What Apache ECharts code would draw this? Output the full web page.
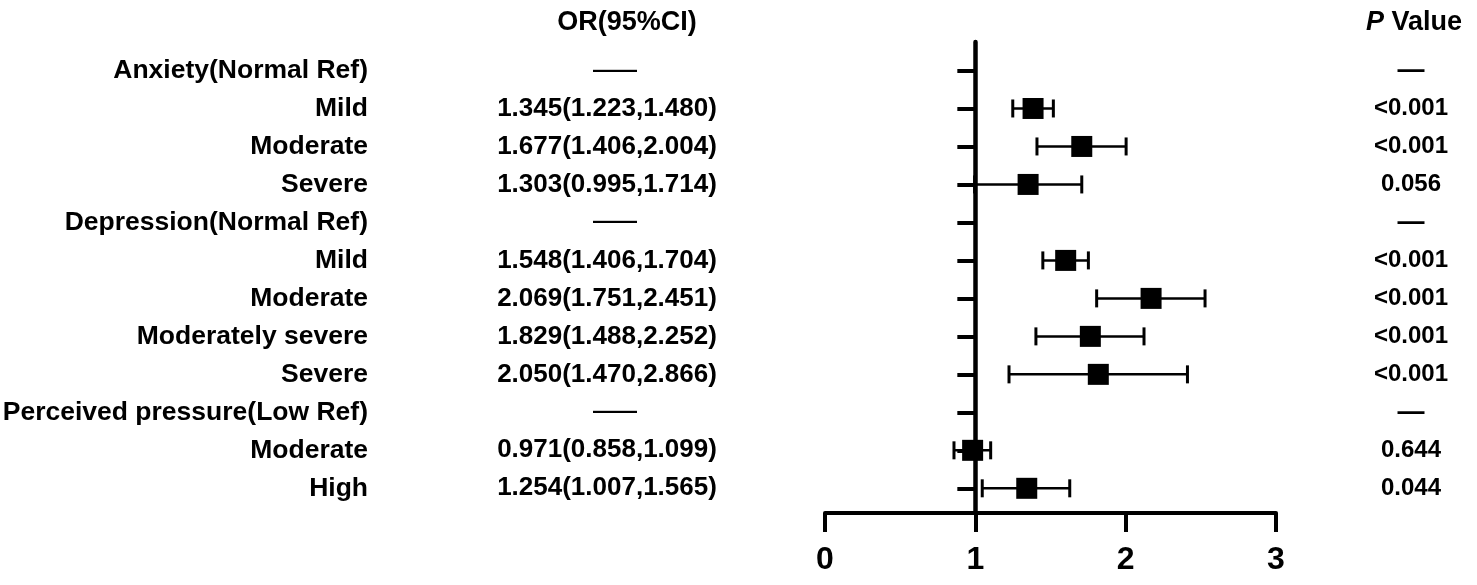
<!DOCTYPE html>
<html>
<head>
<meta charset="utf-8">
<script src="https://cdn.jsdelivr.net/npm/echarts@6/dist/echarts.min.js"></script>
<style>
html,body{margin:0;padding:0;background:#fff;}
#chart{width:1477px;height:585px;}
</style>
</head>
<body>
<div id="chart"></div>
<script>
// ---- data ----
const rowLabels = ['Anxiety(Normal Ref)', 'Mild', 'Moderate', 'Severe',
  'Depression(Normal Ref)', 'Mild', 'Moderate', 'Moderately severe', 'Severe',
  'Perceived pressure(Low Ref)', 'Moderate', 'High'];
const orText = ['—', '1.345(1.223,1.480)', '1.677(1.406,2.004)', '1.303(0.995,1.714)',
  '—', '1.548(1.406,1.704)', '2.069(1.751,2.451)', '1.829(1.488,2.252)', '2.050(1.470,2.866)',
  '—', '0.971(0.858,1.099)', '1.254(1.007,1.565)'];
const pText = ['—', '<0.001', '<0.001', '0.056', '—', '<0.001', '<0.001', '<0.001', '<0.001',
  '—', '0.644', '0.044'];
// plotted values
const estimate = [null, 1.384, 1.708, 1.351, null, 1.601, 2.169, 1.765, 1.818, null, 0.982, 1.342];
const lower    = [null, 1.249, 1.410, 0.995, null, 1.449, 1.807, 1.403, 1.224, null, 0.858, 1.046];
const upper    = [null, 1.519, 2.003, 1.708, null, 1.752, 2.528, 2.122, 2.411, null, 1.102, 1.628];
const xTicks = [0, 1, 2, 3];
const refValue = 1;

// ---- build ----
const rowIdx = rowLabels.map((_, i) => i);
const FONT = "'Liberation Sans', Arial, sans-serif";
const pointData = [], barData = [];
rowIdx.forEach(i => {
  if (estimate[i] != null) pointData.push([estimate[i], i]);
  if (lower[i] != null) barData.push([i, lower[i], upper[i]]);
});

const yBase = {
  type: 'value', inverse: true, min: -0.75, max: 11.65,
  splitLine: { show: false },
};
function labelAxis(position, margin, align, fmt, size, rich) {
  return Object.assign({}, yBase, {
    position: position, offset: 0,
    axisLine: { show: false, onZero: false },
    axisTick: { show: false },
    axisLabel: {
      show: true, customValues: rowIdx, margin: margin, align: align,
      formatter: fmt, color: '#000', fontFamily: FONT, fontWeight: 'bold', fontSize: size,
      rich: rich
    }
  });
}

const chart = echarts.init(document.getElementById('chart'), null, { renderer: 'canvas' });
chart.setOption({
  backgroundColor: '#fff',
  animation: false,
  grid: { left: 825, right: 201, top: 42, bottom: 72, containLabel: false, outerBoundsMode: 'none' },
  xAxis: [
    {
      type: 'value', min: xTicks[0], max: xTicks[xTicks.length - 1], interval: 1,
      position: 'bottom',
      axisLine: { show: true, onZero: false, lineStyle: { color: '#000', width: 4 } },
      axisTick: { show: true, length: 19, lineStyle: { color: '#000', width: 4 } },
      axisLabel: { show: true, margin: 31, color: '#000', fontFamily: FONT, fontWeight: 'bold', fontSize: 32,
        formatter: v => String(v) },
      splitLine: { show: false }
    },
    {
      // shifted copy of the x scale so the y axis can sit on the reference value
      type: 'value', min: xTicks[0] - refValue, max: xTicks[xTicks.length - 1] - refValue,
      position: 'top', show: false
    }
  ],
  yAxis: [
    Object.assign({}, yBase, {
      position: 'left',
      axisLine: { show: true, onZero: true, onZeroAxisIndex: 1, lineStyle: { color: '#000', width: 4.5 } },
      axisTick: { show: true, customValues: rowIdx, length: 18, lineStyle: { color: '#000', width: 4 } },
      axisLabel: { show: false }
    }),
    labelAxis('left', 457, 'right', v => rowLabels[v], 26.5),
    labelAxis('left', 218, 'center', v => orText[v] === '—' ? '{d|——}' : orText[v], 26,
      { d: { fontSize: 22, fontWeight: 'bold', fontFamily: FONT, color: '#000', padding: [0, 0, 0, 16] } }),
    labelAxis('right', 135, 'center', v => pText[v] === '—' ? '{d|—}' : pText[v], 24,
      { d: { fontSize: 27, fontWeight: 'bold', fontFamily: FONT, color: '#000' } })
  ],
  graphic: [
    { type: 'text', x: 627, y: 23, style: { text: 'OR(95%CI)', fill: '#000', font: 'bold 27px ' + FONT, align: 'center', verticalAlign: 'middle' } },
    { type: 'text', x: 1414, y: 23, style: { text: '{i|P} Value', fill: '#000', font: 'bold 27px ' + FONT, align: 'center', verticalAlign: 'middle',
      rich: { i: { fontStyle: 'italic', fontWeight: 'bold', fontSize: 27, fontFamily: FONT, fill: '#000' } } } }
  ],
  series: [
    {
      type: 'custom', xAxisIndex: 0, yAxisIndex: 0,
      encode: { x: [1, 2], y: 0 },
      data: barData,
      renderItem: function (params, api) {
        const y = api.value(0);
        const p1 = api.coord([api.value(1), y]);
        const p2 = api.coord([api.value(2), y]);
        const h = 9;
        const st = { stroke: '#000', lineWidth: 2.5 };
        return {
          type: 'group', children: [
            { type: 'line', shape: { x1: p1[0], y1: p1[1], x2: p2[0], y2: p2[1] }, style: st },
            { type: 'line', shape: { x1: p1[0], y1: p1[1] - h, x2: p1[0], y2: p1[1] + h }, style: { stroke: '#000', lineWidth: 3 } },
            { type: 'line', shape: { x1: p2[0], y1: p2[1] - h, x2: p2[0], y2: p2[1] + h }, style: { stroke: '#000', lineWidth: 3 } }
          ]
        };
      },
      z: 3
    },
    {
      type: 'scatter', xAxisIndex: 0, yAxisIndex: 0,
      symbol: 'rect', symbolSize: 21,
      itemStyle: { color: '#000', opacity: 1 },
      data: pointData,
      z: 4
    }
  ]
});
</script>
</body>
</html>
